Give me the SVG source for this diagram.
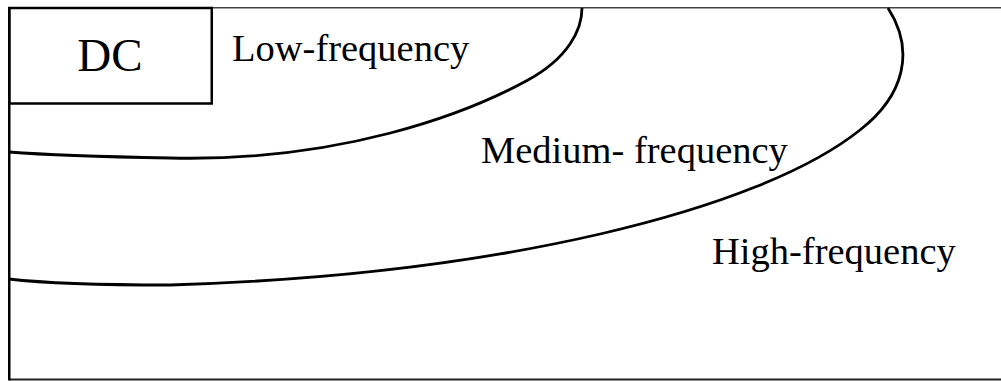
<svg xmlns="http://www.w3.org/2000/svg" width="1001" height="381" viewBox="0 0 1001 381">
<style>
.c{fill:none;stroke:#000;stroke-width:2.8}
.t{font-family:"Liberation Serif","Times New Roman",serif;font-size:38.5px;fill:#000}
</style>
<rect width="1001" height="381" fill="#fff"/>
<g id="frame">
<line x1="9" y1="7.75" x2="1001" y2="7.75" stroke="#444" stroke-width="1.5"/>
<line x1="9" y1="379.5" x2="1001" y2="379.5" stroke="#222" stroke-width="2"/>
<line x1="9.25" y1="7" x2="9.25" y2="380.5" stroke="#000" stroke-width="2.5"/>
</g>
<g id="connectors">
<path class="c" d="M582,8 C582,30 568,58 528,80 C466,114 340,162 170,158 Q60,156 9,152"/>
<path class="c" d="M888,8 C915,50 905,95 860,130 C760,210 500,275 170,285 Q60,285 9,279"/>
</g>
<g id="dc">
<rect x="9.25" y="8" width="202.5" height="95.5" fill="none" stroke="#000" stroke-width="2.5"/>
<text x="110" y="70.7" class="t" style="font-size:47px" text-anchor="middle">DC</text>
</g>
<g id="low"><text x="232" y="60.5" class="t">Low-frequency</text></g>
<g id="medium"><text x="481" y="162.5" class="t">Medium- frequency</text></g>
<g id="high"><text x="712" y="264" class="t">High-frequency</text></g>
</svg>
